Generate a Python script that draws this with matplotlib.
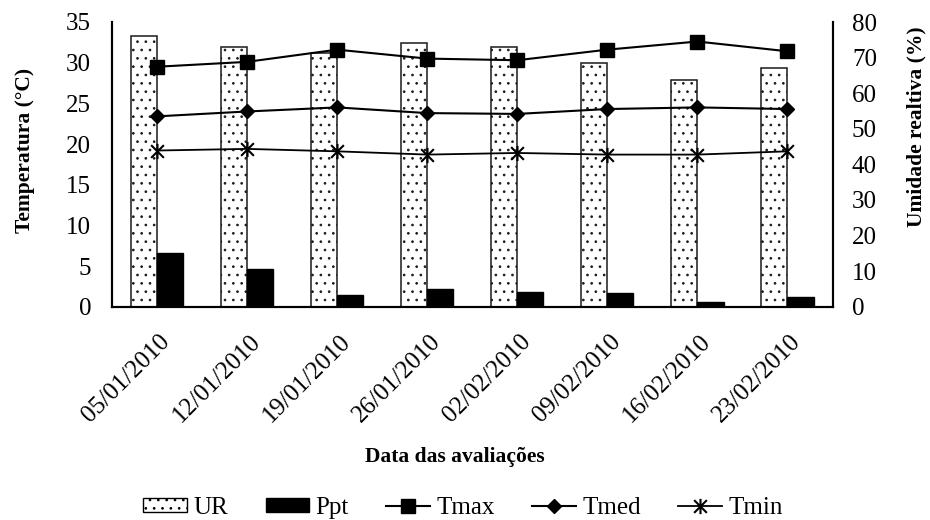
import matplotlib
matplotlib.use("Agg")
import matplotlib.pyplot as plt
import numpy as np
from matplotlib.path import Path
from matplotlib.lines import Line2D
from matplotlib.patches import Patch
from matplotlib.transforms import ScaledTranslation

plt.rcParams['font.family'] = ['Liberation Serif', 'DejaVu Serif']
plt.rcParams['hatch.linewidth'] = 0.7

dates = ["05/01/2010", "12/01/2010", "19/01/2010", "26/01/2010",
         "02/02/2010", "09/02/2010", "16/02/2010", "23/02/2010"]
UR = [76.1, 73.1, 71.2, 74.0, 73.1, 68.4, 63.7, 67.0]
Ppt = [15.2, 10.5, 3.4, 4.9, 4.2, 3.8, 1.4, 2.8]
Tmax = [29.5, 30.1, 31.6, 30.5, 30.3, 31.6, 32.6, 31.4]
Tmed = [23.4, 24.0, 24.5, 23.8, 23.7, 24.3, 24.5, 24.3]
Tmin = [19.2, 19.4, 19.1, 18.7, 18.9, 18.7, 18.7, 19.1]

star = Path([(-1, -1), (1, 1), (-1, 1), (1, -1), (0, -1.2), (0, 1.2)],
            [Path.MOVETO, Path.LINETO, Path.MOVETO, Path.LINETO, Path.MOVETO, Path.LINETO])

W, H = 930, 520
fig = plt.figure(figsize=(9.3, 5.2), dpi=100)
ax1 = fig.add_axes([112 / W, 1 - 306.7 / H, (832.5 - 112) / W, (306.7 - 22) / H])
ax2 = ax1.twinx()

x = np.arange(len(dates))
w = 0.29
ax2.bar(x - w / 2, UR, width=w, facecolor='white', edgecolor='#1a1a1a',
        hatch='..', linewidth=1.1, label='UR')
ax2.bar(x + w / 2, Ppt, width=w, facecolor='black', edgecolor='black',
        linewidth=1.0, label='Ppt')
ax2.set_ylim(0, 80)
ax2.set_yticks(np.arange(0, 81, 10))

ax1.plot(x, Tmax, color='black', lw=1.5, marker='s', ms=10, label='Tmax')
ax1.plot(x, Tmed, color='black', lw=1.5, marker='D', ms=7, label='Tmed')
ax1.plot(x, Tmin, color='black', lw=1.3, marker=star, ms=11, mew=1.5, label='Tmin')
ax1.set_ylim(0, 35)
ax1.set_yticks(np.arange(0, 36, 5))
ax1.set_xlim(-0.5, len(dates) - 0.5)
ax1.set_xticks(x)
ax1.set_xticklabels(dates, rotation=45, ha='right', rotation_mode='anchor')

ax1.set_zorder(ax2.get_zorder() + 1)
ax1.patch.set_visible(False)

for a in (ax1, ax2):
    a.spines['top'].set_visible(False)
    for s in ('left', 'right', 'bottom'):
        a.spines[s].set_linewidth(1.5)
    a.tick_params(length=0, labelsize=18)
ax1.tick_params(axis='x', pad=17)
ax1.tick_params(axis='y', pad=15)
ax2.tick_params(axis='y', pad=14)

shift = ScaledTranslation(2 / 100, 0, fig.dpi_scale_trans)
for lab in ax1.get_xticklabels():
    lab.set_transform(lab.get_transform() + shift)

fig.text(25 / W, 1 - 150 / H, 'Temperatura (°C)', rotation=90, ha='center', va='center',
         fontsize=15.5, fontweight='bold')
fig.text(916 / W, 1 - 127 / H, 'Umidade realtiva (%)', rotation=90, ha='center', va='center',
         fontsize=15.5, fontweight='bold')
fig.text(455 / W, 1 - 457 / H, 'Data das avaliações', ha='center', va='center',
         fontsize=15.5, fontweight='bold')

handles = [Patch(facecolor='white', edgecolor='black', hatch='..', label='UR'),
           Patch(facecolor='black', edgecolor='black', label='Ppt'),
           Line2D([], [], color='black', lw=1.5, marker='s', ms=10, label='Tmax'),
           Line2D([], [], color='black', lw=1.5, marker='D', ms=7, label='Tmed'),
           Line2D([], [], color='black', lw=1.3, marker=star, ms=11, mew=1.5, label='Tmin')]
fig.legend(handles=handles, loc='center', bbox_to_anchor=(463 / W, 1 - 508 / H), ncol=5,
           frameon=False, fontsize=18, handlelength=1.75, handleheight=0.5,
           columnspacing=1.5, handletextpad=0.25, borderpad=0, borderaxespad=0)

fig.savefig('out.png', dpi=100)
